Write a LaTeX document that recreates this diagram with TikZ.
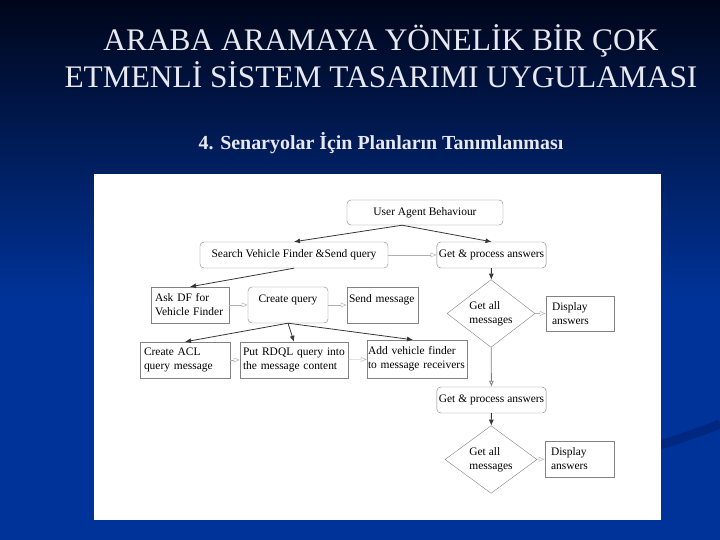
\documentclass[tikz,border=0pt]{standalone}
\usepackage{fontspec}
\setmainfont{Liberation Serif}
\usepackage{xcolor}
\usetikzlibrary{shapes.geometric,arrows.meta}

\definecolor{bgtop}{RGB}{0,6,26}
\definecolor{bgbot}{RGB}{0,51,153}
\definecolor{bgswirl}{RGB}{0,40,128}
\definecolor{titlegray}{RGB}{232,232,240}
\definecolor{boxline}{RGB}{130,130,130}
\definecolor{strong}{RGB}{55,55,55}
\definecolor{weak}{RGB}{175,175,175}

\begin{document}
\begin{tikzpicture}[
	x=1bp, y=-1bp,
	every node/.style={font=\fontsize{11.5}{14}\selectfont},
	rbox/.style={draw=boxline, rounded corners=4bp, inner sep=2bp, align=left},
	sbox/.style={draw=boxline, inner xsep=4bp, inner ysep=2bp, align=left},
	dmd/.style={draw=boxline, diamond, inner sep=0pt, align=left},
	flow/.style={strong, thick, -{Latex[length=6bp,width=5bp]}},
	seq/.style={weak, -{Latex[open,length=6bp,width=5bp]}},
	title/.style={text=titlegray, font=\fontsize{31.5}{37}\selectfont, align=center},
	subtitle/.style={text=titlegray, font=\bfseries\fontsize{20}{22}\selectfont}
]
\useasboundingbox (0,0) rectangle (720,540);
\shade[top color=bgtop, bottom color=bgbot] (0,0) rectangle (720,300);
\fill[bgbot] (0,299) rectangle (720,540);
\draw[bgswirl, line width=9bp] (640,452) .. controls (675,440) and (700,432) .. (720,424);
\fill[white] (94,174) rectangle (661,520);

\node[title] (t1) at (381,56) {ARABA ARAMAYA YÖNELİK BİR ÇOK\\ETMENLİ SİSTEM TASARIMI UYGULAMASI};
\node[subtitle] (t2) at (381,143) {4. Senaryolar İçin Planların Tanımlanması};

\node[rbox, minimum width=156bp, minimum height=25bp] (uab) at (425,212.5) {User Agent Behaviour};
\node[rbox, minimum width=188bp, minimum height=26bp] (search) at (294,255) {Search Vehicle Finder \&Send query};
\node[rbox, minimum width=109bp, minimum height=26bp] (getproc) at (491.5,255) {Get \& process answers};
\node[sbox, text width=70bp, minimum height=36bp] (askdf) at (190,305) {Ask DF for\\Vehicle Finder};
\node[rbox, minimum width=80bp, minimum height=36bp, text depth=12bp] (cquery) at (288,305) {Create query};
\node[sbox, text width=67bp, inner xsep=2bp, minimum height=36bp, text depth=12bp] (sendmsg) at (382.5,305) {Send message};
\node[dmd, minimum width=88bp, minimum height=55bp] (getall) at (491,313.5) {Get all\\messages};
\node[sbox, text width=56bp, inner xsep=6bp, minimum height=35bp] (display) at (580,313.5) {Display\\answers};
\node[sbox, text width=82bp, minimum height=36bp] (aclmsg) at (185,360) {Create ACL\\query message};
\node[sbox, text width=102bp, inner xsep=3bp, minimum height=36bp] (rdql) at (294,360) {Put RDQL query into\\the message content};
\node[sbox, text width=98bp, inner xsep=1bp, minimum height=38bp] (addrecv) at (417,359) {Add vehicle finder\\to message receivers};
\node[rbox, minimum width=109bp, minimum height=26bp] (getproc2) at (491.5,400) {Get \& process answers};
\node[dmd, minimum width=92bp, minimum height=55bp] (getall2) at (491,459.5) {Get all\\messages};
\node[sbox, text width=57bp, inner xsep=6bp, minimum height=36bp] (display2) at (579.5,459) {Display\\answers};

\draw[flow] ([xshift=-23bp]uab.south) -- (search.north);
\draw[flow] ([xshift=-23bp]uab.south) -- (getproc.north);
\draw[seq] (search) -- (getproc);
\draw[flow] (search.south) -- (askdf.north);
\draw[seq] (askdf) -- (cquery);
\draw[seq] (cquery) -- (sendmsg);
\draw[flow] (cquery.south) -- (aclmsg.north);
\draw[flow] (cquery.south) -- (rdql.north);
\draw[flow] (cquery.south) -- ([xshift=-4bp]addrecv.north);
\draw[seq] (aclmsg) -- (rdql);
\draw[seq] (rdql) -- (addrecv);
\draw[flow] (getproc) -- (getall);
\draw[seq] (getall) -- (display);
\draw[seq, draw=gray, thick] (getall) -- (getproc2);
\draw[flow] (getproc2) -- (getall2);
\draw[seq] (getall2) -- (display2);
\end{tikzpicture}
\end{document}
